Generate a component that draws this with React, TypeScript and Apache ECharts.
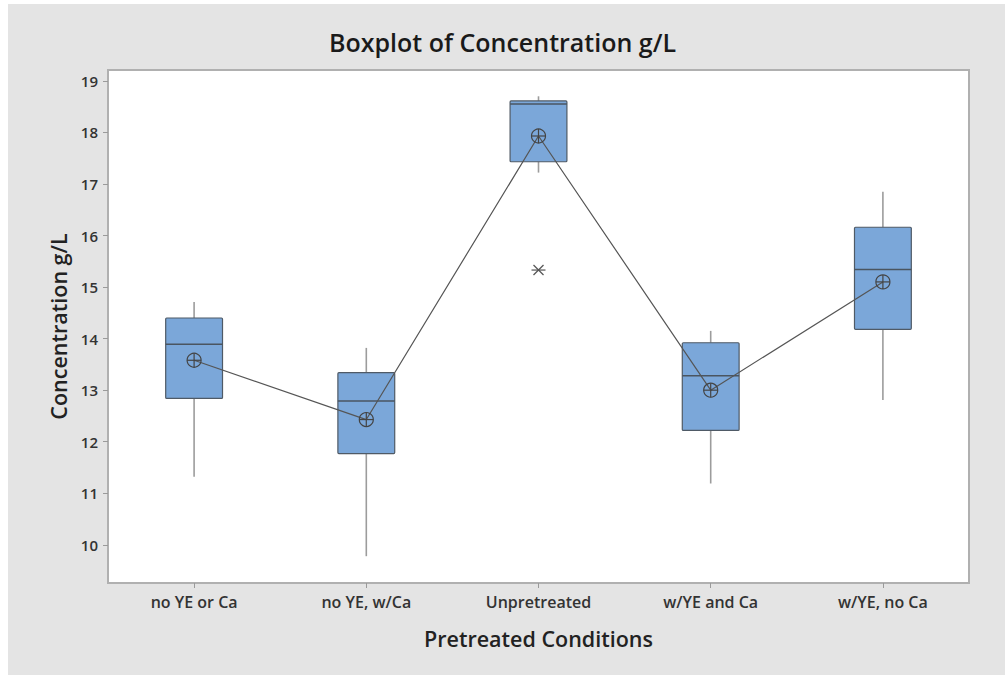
import React, { useEffect, useRef } from "react";
import * as echarts from "echarts";

const categories = ["no YE or Ca", "no YE, w/Ca", "Unpretreated", "w/YE and Ca", "w/YE, no Ca"];
// [whiskerLow, Q1, median, Q3, whiskerHigh]
const boxStats = [
  [11.32, 12.84, 13.89, 14.40, 14.71],
  [9.78, 11.77, 12.79, 13.34, 13.82],
  [17.22, 17.43, 18.55, 18.61, 18.70],
  [11.19, 12.22, 13.28, 13.92, 14.15],
  [12.81, 14.18, 15.34, 16.16, 16.85],
];
const means = [13.58, 12.43, 17.93, 13.0, 15.10];
const outliers = [[2, 15.33]];
const yTicks = [10, 11, 12, 13, 14, 15, 16, 17, 18, 19];

export default function App() {
  const ref = useRef<HTMLDivElement>(null);
  useEffect(() => {
    if (!ref.current) return;
    const chart = echarts.init(ref.current, null, { renderer: "svg" });
    const font = "'Open Sans', 'Noto Sans', sans-serif";
    const boxData = boxStats.map((s, i) => [i, ...s]);
    const meanData = means.map((m, i) => [i, m]);
    chart.setOption({
      animation: false,
      backgroundColor: "#e4e4e4",
      title: {
        text: "Boxplot of Concentration g/L",
        left: "center",
        top: 24,
        textStyle: { fontFamily: font, fontSize: 25, fontWeight: 600, color: "#1a1a1a" },
      },
      graphic: [
        { type: "rect", shape: { x: 0, y: 0, width: 8, height: 675 }, style: { fill: "#ffffff" }, silent: true },
        { type: "rect", shape: { x: 0, y: 0, width: 1005, height: 4 }, style: { fill: "#ffffff" }, silent: true },
      ],
      grid: {
        left: 108,
        top: 70,
        right: 36,
        bottom: 92,
        show: true,
        backgroundColor: "#ffffff",
        borderColor: "#b0b0b0",
        borderWidth: 2,
      },
      xAxis: {
        type: "category",
        data: categories,
        boundaryGap: true,
        name: "Pretreated Conditions",
        nameLocation: "middle",
        nameGap: 44,
        nameTextStyle: { fontFamily: font, fontSize: 21.5, fontWeight: 600, color: "#222" },
        axisLine: { show: false },
        axisTick: { show: true, alignWithLabel: true, length: 5, lineStyle: { color: "#9a9a9a" } },
        axisLabel: { fontFamily: font, fontSize: 16, fontWeight: 600, color: "#333", margin: 11 },
        splitLine: { show: false },
      },
      yAxis: {
        type: "value",
        min: 9.26,
        max: 19.21,
        name: "Concentration g/L",
        nameLocation: "middle",
        nameGap: 37,
        nameRotate: 90,
        nameTextStyle: { fontFamily: font, fontSize: 21.5, fontWeight: 600, color: "#222" },
        axisLine: { show: false },
        axisTick: { show: true, length: 5, customValues: yTicks, lineStyle: { color: "#9a9a9a" } },
        axisLabel: { fontFamily: font, fontSize: 15, fontWeight: 600, color: "#333", margin: 10, customValues: yTicks },
        splitLine: { show: false },
      },
      series: [
        {
          type: "custom",
          data: boxData,
          encode: { x: 0, y: [1, 2, 3, 4, 5] },
          z: 2,
          renderItem: (params: any, api: any) => {
            const idx = api.value(0);
            const lo = api.coord([idx, api.value(1)]);
            const q1 = api.coord([idx, api.value(2)]);
            const med = api.coord([idx, api.value(3)]);
            const q3 = api.coord([idx, api.value(4)]);
            const hi = api.coord([idx, api.value(5)]);
            const w = api.size([1, 0])[0] * 0.33;
            const x = lo[0];
            const whisk = { stroke: "#9c9c9c", lineWidth: 1.6 };
            return {
              type: "group",
              children: [
                { type: "line", shape: { x1: x, y1: hi[1], x2: x, y2: q3[1] }, style: whisk },
                { type: "line", shape: { x1: x, y1: q1[1], x2: x, y2: lo[1] }, style: whisk },
                {
                  type: "rect",
                  shape: { x: x - w / 2, y: q3[1], width: w, height: q1[1] - q3[1], r: 1 },
                  style: { fill: "#7ba7d9", stroke: "#4f5a66", lineWidth: 1.2 },
                },
                {
                  type: "line",
                  shape: { x1: x - w / 2, y1: med[1], x2: x + w / 2, y2: med[1] },
                  style: { stroke: "#4a5560", lineWidth: 1.6 },
                },
              ],
            };
          },
        },
        {
          type: "line",
          data: meanData,
          symbol: "none",
          z: 3,
          lineStyle: { color: "#555555", width: 1.2 },
        },
        {
          type: "custom",
          data: meanData,
          encode: { x: 0, y: 1 },
          z: 4,
          renderItem: (params: any, api: any) => {
            const p = api.coord([api.value(0), api.value(1)]);
            const r = 7;
            const st = { stroke: "#444444", lineWidth: 1.2, fill: "none" };
            return {
              type: "group",
              children: [
                { type: "circle", shape: { cx: p[0], cy: p[1], r }, style: { stroke: "#444444", lineWidth: 1.2, fill: "rgba(0,0,0,0)" } },
                { type: "line", shape: { x1: p[0] - r, y1: p[1], x2: p[0] + r, y2: p[1] }, style: st },
                { type: "line", shape: { x1: p[0], y1: p[1] - r, x2: p[0], y2: p[1] + r }, style: st },
              ],
            };
          },
        },
        {
          type: "custom",
          data: outliers,
          encode: { x: 0, y: 1 },
          z: 4,
          renderItem: (params: any, api: any) => {
            const p = api.coord([api.value(0), api.value(1)]);
            const st = { stroke: "#555555", lineWidth: 1.2 };
            return {
              type: "group",
              children: [
                { type: "line", shape: { x1: p[0] - 7, y1: p[1], x2: p[0] + 7, y2: p[1] }, style: st },
                { type: "line", shape: { x1: p[0] - 5, y1: p[1] - 5, x2: p[0] + 5, y2: p[1] + 5 }, style: st },
                { type: "line", shape: { x1: p[0] - 5, y1: p[1] + 5, x2: p[0] + 5, y2: p[1] - 5 }, style: st },
              ],
            };
          },
        },
      ],
    });
    return () => chart.dispose();
  }, []);
  return (
    <div
      ref={ref}
      style={{ position: "absolute", left: 0, top: 0, width: 1005, height: 675 }}
    />
  );
}
